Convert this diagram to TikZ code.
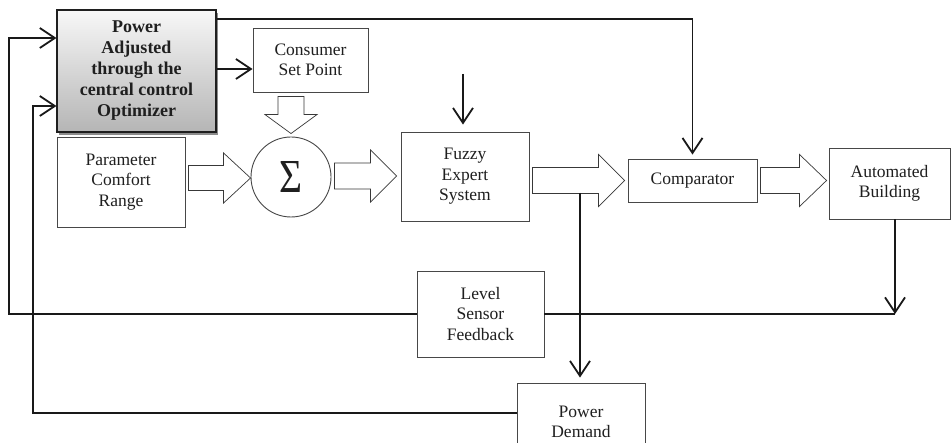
\documentclass[tikz,border=0pt]{standalone}
\usepackage{fontspec}
\setmainfont{Liberation Serif}
\usetikzlibrary{arrows.meta,calc,shadows}
\newcommand\hollowR[4]{% tail, tip, head length, half shaft
  \draw[harrow] let \p1=(#1), \p2=(#2) in
    (\x1,\y2+#4) -- (\x2-#3,\y2+#4) -- (\x2-#3,\y2+2*#4) -- (\x2,\y2)
    -- (\x2-#3,\y2-2*#4) -- (\x2-#3,\y2-#4) -- (\x1,\y2-#4) -- cycle;}
\begin{document}
\begin{tikzpicture}[x=1pt,y=-1pt,
  box/.style={draw=black!72,line width=0.9pt,fill=white,inner sep=0pt,align=center,
    font=\fontsize{17.5}{20.5}\selectfont,text=black!88},
  conn/.style={line width=1.8pt,draw=black!90},
  >={Straight Barb[length=15pt,width=20pt]},
  harrow/.style={draw=black!78,line width=0.7pt,fill=white}]
\useasboundingbox (0,0) rectangle (951,443);
\clip (0,0) rectangle (951,443);
\fill[white] (0,0) rectangle (951,443);

% nodes
\node[box,minimum width=159pt,minimum height=122pt,top color=gray!6,bottom color=gray!58,
  draw=black!88,line width=1.1pt,
  drop shadow={shadow xshift=2pt,shadow yshift=-3pt,fill=black!45,opacity=1},
  font=\bfseries\fontsize{18}{21}\selectfont] (pw) at (136.5,71)
  {Power\\Adjusted\\through the\\central control\\Optimizer};
\node[box,minimum width=115pt,minimum height=64pt] (cs) at (310.5,60) {Consumer\\Set Point};
\node[box,minimum width=128pt,minimum height=90pt] (pcr) at (121,182) {Parameter\\Comfort\\Range};
\node[box,circle,minimum size=80pt] (sig) at (291,177) {\resizebox{23pt}{31pt}{Σ}};
\node[box,minimum width=128pt,minimum height=89pt] (fes) at (465,176.5) {Fuzzy\\Expert\\System};
\node[box,minimum width=129pt,minimum height=43pt] (cmp) at (692.5,180.5) {Comparator};
\node[box,minimum width=121pt,minimum height=71pt] (ab) at (889.5,183.5) {Automated\\Building};
\node[box,minimum width=127pt,minimum height=86pt] (lsf) at (480.5,314) {Level\\Sensor\\Feedback};
\node[box,minimum width=128pt,minimum height=78pt] (pd) at (581,422) {Power\\Demand};

% hollow arrows
\hollowR{$(pcr.east)+(3,0)$}{$(sig.west)+(0,1)$}{27pt}{12.5pt}
\hollowR{$(sig.east)+(3,0)$}{$(fes.west |- sig.center)+(-4,-1)$}{26pt}{13pt}
\hollowR{$(fes.east)+(3,0)$}{$(cmp.west)+(-3,0)$}{26pt}{13pt}
\hollowR{$(cmp.east)+(3,0)$}{$(ab.west |- cmp.center)+(-2,0)$}{27pt}{13pt}
\draw[harrow] let \p1=(cs.south), \p2=(sig.north) in
  (\x2-13pt,\y1-4pt) -- (\x2+13pt,\y1-4pt) -- (\x2+13pt,\y2+22pt) -- (\x2+26pt,\y2+22pt)
  -- (\x2,\y2+3pt) -- (\x2-26pt,\y2+22pt) -- (\x2-13pt,\y2+22pt) -- cycle;

% connectors
\coordinate (fin) at (463,74);
\coordinate (fb) at (895,314);
\coordinate (l1) at (9,314);
\coordinate (tap) at (580,193);
\coordinate (l2) at (33,413);
\draw[conn,->,shorten >=4pt] (pw.east |- 0,19) -| (cmp.north);
\draw[conn,->] (pw.east |- 0,69) -- (cs.west |- 0,69);
\draw[conn,->,shorten >=7pt] (fin) -- (fin |- fes.north);
\draw[conn,->] (ab.south -| fb) -- (fb);
\draw[conn] (fb) -- (lsf.east);
\draw[conn,->] (lsf.west) -- (l1) |- (pw.west |- 0,38);
\draw[conn,->,shorten >=5pt] (tap) -- (tap |- pd.north);
\draw[conn,->] (pd.west |- l2) -- (l2) |- (pw.west |- 0,106);
\end{tikzpicture}
\end{document}
